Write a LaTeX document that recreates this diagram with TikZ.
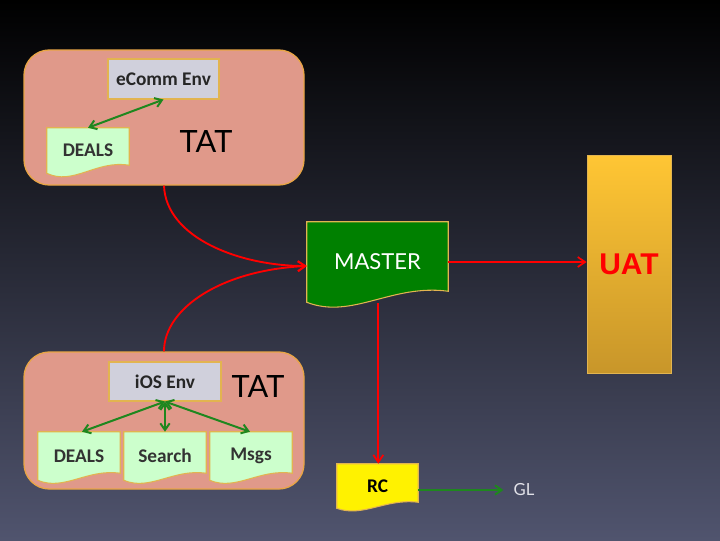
\documentclass[tikz,border=0pt]{standalone}
\usepackage{fontspec}
\setmainfont{Carlito}
\newfontfamily\gillf{Lato}
\newfontfamily\uatf{Liberation Sans}
\usetikzlibrary{arrows.meta,calc}
\pgfdeclarelayer{back}
\pgfdeclarelayer{docs}
\pgfsetlayers{back,docs,main}
\definecolor{bgmid}{RGB}{26,24,42}
\definecolor{bgbot}{RGB}{80,84,110}
\definecolor{tatfill}{RGB}{224,153,138}
\definecolor{tatline}{RGB}{232,165,70}
\definecolor{envfill}{RGB}{208,208,220}
\definecolor{goldline}{RGB}{226,180,80}
\definecolor{docfill}{RGB}{204,255,204}
\definecolor{masterfill}{RGB}{0,128,0}
\definecolor{uattop}{RGB}{255,198,52}
\definecolor{uatbot}{RGB}{200,150,42}
\definecolor{arrgreen}{RGB}{30,135,30}
\definecolor{gltext}{RGB}{225,225,232}
\tikzset{
  tatbox/.style={draw=tatline, line width=1pt, fill=tatfill, rounded corners=19pt, minimum width=210pt},
  envbox/.style={draw=goldline, line width=0.8pt, fill=envfill, font=\bfseries\fontsize{14.5}{16}\selectfont, text=black!85, inner sep=0pt},
  doctext/.style={inner sep=0pt, font=\bfseries\fontsize{14.5}{16}\selectfont, text=black!80},
  tatlabel/.style={font=\gillf\fontsize{23}{26}\selectfont, text=black},
  redarrow/.style={draw=red, line width=1.4pt, -{Straight Barb[length=5.5pt,width=7.5pt,line width=1.3pt]}},
  greenarrow/.style={draw=arrgreen, line width=1.5pt, -{Straight Barb[length=5pt,width=7pt,line width=1.5pt]}},
  greenboth/.style={draw=arrgreen, line width=1.5pt, {Straight Barb[length=5pt,width=7pt,line width=1.5pt]}-{Straight Barb[length=5pt,width=7pt,line width=1.5pt]}},
}
% document shape behind a named node: #1 name, #2 fill, #3 wave amplitude
\newcommand{\docshape}[3]{%
  \begin{pgfonlayer}{docs}
  \draw[draw=goldline, line width=0.8pt, fill=#2]
    (#1.north west) -- (#1.north east) -- ($(#1.south east)+(0,-#3)$)
    .. controls ($(#1.south east)!0.4!(#1.south west)+(0,-1.7*#3)$)
    and ($(#1.south east)!0.68!(#1.south west)+(0,1.6*#3)$) .. (#1.south west) -- cycle;
  \end{pgfonlayer}}
\begin{document}
\begin{tikzpicture}[x=0.75pt,y=-0.75pt]
\useasboundingbox (0,0) rectangle (720,540);
\begin{pgfonlayer}{back}
\shade[top color=black, middle color=bgmid, bottom color=bgbot] (0,0) rectangle (720,540);
\node[tatbox, minimum height=101.25pt] (tat1) at (164,117.5) {};
\node[tatbox, minimum height=102.75pt] (tat2) at (164,420.5) {};
\end{pgfonlayer}

% top group
\node[envbox, minimum width=83.25pt, minimum height=30pt] (ecomm) at (163.5,79) {eComm Env};
\node[doctext, minimum width=61.5pt, minimum height=33.75pt] (deals1) at (88,150.5) {DEALS};
\docshape{deals1}{docfill}{8}
\node[tatlabel] (tatA) at (206,142) {TAT};
\draw[greenboth] (ecomm.south) -- (deals1.north);

% bottom group
\node[envbox, minimum width=84pt, minimum height=29.25pt] (ios) at (165,381.5) {iOS Env};
\node[tatlabel] (tatB) at (258,387) {TAT};
\node[doctext, minimum width=61.5pt, minimum height=36pt] (deals2) at (79,456) {DEALS};
\node[doctext, minimum width=61.5pt, minimum height=36pt] (search) at (165,456) {Search};
\node[doctext, minimum width=61.5pt, minimum height=36pt] (msgs) at (251,456) {Msgs};
\docshape{deals2}{docfill}{7}
\docshape{search}{docfill}{7}
\docshape{msgs}{docfill}{7}
\draw[greenboth] (ios.south) -- ($(deals2.north)+(3,0)$);
\draw[greenboth] (ios.south) -- (search.north);
\draw[greenboth] (ios.south) -- ($(msgs.north)+(-1,0)$);

% master
\node[inner sep=0pt, minimum width=105.75pt, minimum height=60pt, text=white, font=\gillf\fontsize{16.5}{18}\selectfont] (master) at (377.5,262) {MASTER};
\docshape{master}{masterfill}{11}

% UAT
\node[draw=goldline, line width=0.6pt, top color=uattop, bottom color=uatbot, minimum width=63pt, minimum height=163.5pt, inner sep=0pt, text=red, font=\uatf\bfseries\fontsize{22.5}{24}\selectfont] (uat) at (629,264) {UAT};

% RC and GL
\node[inner sep=0pt, minimum width=60.75pt, minimum height=33pt, text=black, font=\bfseries\fontsize{14.5}{16}\selectfont] (rc) at (377.5,486) {RC};
\docshape{rc}{yellow}{6}
\node[inner sep=0pt, text=gltext, font=\gillf\fontsize{12.5}{14}\selectfont] (gl) at (524,490) {GL};

% connectors
\coordinate (min) at ($(master.west)+(0,4)$);
\coordinate (mbot) at ($(master.south)+(0.8,1)$);
\draw[redarrow] (tat1.south) .. controls (166,238) and (240,266) .. (min);
\draw[redarrow] (tat2.north) .. controls (164,308) and (222,270) .. (min);
\draw[redarrow] (master.east) -- (master.east -| uat.west);
\draw[redarrow] (mbot) -- (mbot |- rc.north);
\draw[greenarrow] (rc.east |- gl.west) -- ($(gl.west)+(-10,0)$);
\end{tikzpicture}
\end{document}
